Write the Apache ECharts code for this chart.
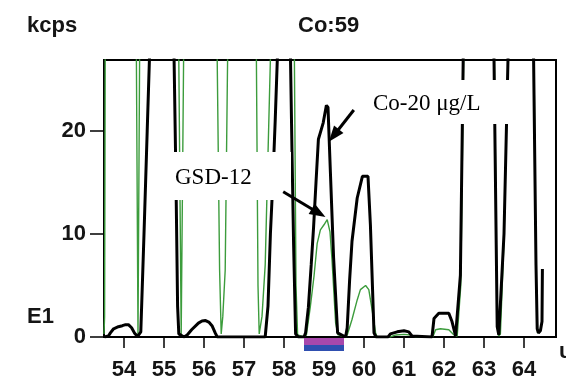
<!DOCTYPE html>
<html>
<head>
<meta charset="utf-8">
<script src="https://cdn.jsdelivr.net/npm/echarts@6/dist/echarts.min.js"></script>
<style>
	html, body { margin: 0; padding: 0; background: #fff; }
	#chart { width: 566px; height: 380px; }
</style>
</head>
<body>
<div id="chart"></div>
<script>
	// mass scan around Co:59, values in kcps (E1)
	let massTicks = [54, 55, 56, 57, 58, 59, 60, 61, 62, 63, 64];
	let countTicks = [0, 10, 20];

	// Co-20 ug/L standard (black trace), [mass, kcps]
	let co20Trace = [
		[53.51, 0], [53.61, 0.1], [53.66, 0.4], [53.74, 0.8], [53.86, 1.0], [53.96, 1.1], [54.04, 1.2], [54.11, 1.2], [54.19, 0.9], [54.26, 0.4], [54.34, 0.05],
		[54.42, 0.5], [54.5, 10], [54.58, 20], [54.66, 30], [54.75, 60], [55.15, 60], [55.24, 30], [55.3, 15], [55.34, 3], [55.37, 0.3],
		[55.5, 0], [55.58, 0.2], [55.69, 0.7], [55.86, 1.35], [55.95, 1.55], [56.04, 1.6], [56.12, 1.45], [56.2, 1.1], [56.28, 0.4], [56.33, 0],
		[57.53, 0], [57.6, 3], [57.66, 10], [57.72, 15], [57.78, 21], [57.86, 30], [57.95, 60], [58.08, 60], [58.15, 30], [58.2, 18], [58.24, 9], [58.29, 0.3],
		[58.36, 0], [58.5, 0], [58.54, 0.4], [58.61, 2.9], [58.68, 7], [58.74, 10.7], [58.8, 15], [58.86, 19.2], [58.92, 20], [58.98, 20.8], [59.06, 22.5], [59.1, 22.3], [59.16, 16], [59.24, 7.7], [59.34, 0.4],
		[59.54, 0], [59.58, 0.9], [59.64, 5.5], [59.7, 9.3], [59.83, 13.5], [59.96, 15.6], [60.1, 15.6], [60.16, 10.9], [60.25, 0.4], [60.3, 0],
		[60.6, 0], [60.66, 0.3], [60.83, 0.5], [61.0, 0.6], [61.12, 0.5], [61.2, 0.1], [61.7, 0],
		[61.75, 1.8], [61.87, 2.3], [62.12, 2.3], [62.2, 1.5], [62.29, 0.1], [62.33, 0.1], [62.41, 6], [62.48, 27], [62.52, 60],
		[63.15, 60], [63.25, 27], [63.33, 1], [63.37, 0.2], [63.41, 0.3], [63.5, 10], [63.6, 27], [63.65, 60],
		[64.18, 60], [64.24, 27], [64.3, 7], [64.33, 0.8], [64.36, 0.4], [64.41, 0.6], [64.45, 1.5], [64.46, 6.6]
	];

	// GSD-12 sediment (green trace)
	let gsd12Trace = [
		[53.5, 0.3], [53.515, 2], [53.53, 27], [53.56, 60], [54.26, 60], [54.31, 27], [54.35, 0.2], [54.39, 27], [54.44, 60],
		[55.32, 60], [55.37, 27], [55.43, 0.3], [55.49, 27], [55.54, 60],
		[56.28, 60], [56.33, 27], [56.39, 6.5], [56.43, 0.3], [56.47, 2], [56.53, 6.5], [56.59, 27], [56.65, 60],
		[57.26, 60], [57.31, 27], [57.35, 5], [57.38, 0.3], [57.45, 2], [57.53, 7], [57.66, 27], [57.72, 60],
		[58.2, 60], [58.26, 27], [58.3, 5], [58.34, 0.2], [58.5, 0],
		[58.56, 0.2], [58.66, 3.0], [58.75, 5.9], [58.83, 9.1], [58.91, 10.4], [59.0, 10.9], [59.08, 11.4], [59.15, 10.2], [59.2, 7.5], [59.29, 1.4], [59.35, 0.2],
		[59.55, 0], [59.58, 0.2], [59.7, 1.7], [59.83, 3.6], [59.91, 4.6], [60.04, 5.0], [60.12, 4.6], [60.2, 2.7], [60.29, 0.4], [60.33, 0],
		[60.65, 0], [60.8, 0.2], [61.0, 0.25], [61.15, 0.2], [61.3, 0], [61.72, 0],
		[61.79, 0.7], [61.91, 0.8], [62.12, 0.7], [62.25, 0.2], [62.33, 0.1], [62.42, 5], [62.49, 27], [62.55, 60],
		[63.18, 60], [63.26, 27], [63.33, 1], [63.37, 0.1], [63.41, 0.3], [63.5, 9.5], [63.6, 27], [63.66, 60],
		[64.2, 60], [64.25, 27], [64.3, 6], [64.34, 0.4], [64.4, 0.5]
	];

	// integration window for Co:59
	let coWindow = [58.5, 59.5];

	let boldFont = 'Liberation Sans';
	let labelStyle = { fontFamily: boldFont, fontSize: 22, fontWeight: 'bold', color: '#151515' };

	let option = {
		animation: false,
		backgroundColor: '#fff',
		title: [{
			text: 'kcps',
			left: 27,
			top: 15,
			padding: 0,
			textStyle: labelStyle
		}, {
			text: 'Co:59',
			left: 298,
			top: 15,
			padding: 0,
			textStyle: labelStyle
		}, {
			text: 'E1',
			left: 27,
			top: 306,
			padding: 0,
			textStyle: labelStyle
		}],
		grid: {
			left: 104,
			right: 10,
			top: 60,
			bottom: 43,
			outerBoundsMode: 'none',
			containLabel: false,
			show: true,
			borderColor: '#000',
			borderWidth: 2
		},
		xAxis: {
			type: 'value',
			min: 53.5,
			max: 64.8,
			name: 'u',
			nameLocation: 'end',
			nameGap: 3,
			nameTextStyle: Object.assign({}, labelStyle, { align: 'left', verticalAlign: 'top', padding: [4, 0, 0, 0] }),
			splitLine: { show: false },
			axisLine: { show: true, lineStyle: { color: '#000', width: 2 } },
			axisTick: { show: true, length: 11, customValues: massTicks, lineStyle: { color: '#000', width: 1.5 } },
			axisLabel: Object.assign({ customValues: massTicks, margin: 22 }, labelStyle)
		},
		yAxis: {
			type: 'value',
			min: 0,
			max: 26.9,
			splitLine: { show: false },
			axisLine: { show: true, lineStyle: { color: '#000', width: 2 } },
			axisTick: { show: true, length: 14, customValues: countTicks, lineStyle: { color: '#000', width: 1.5 } },
			axisLabel: Object.assign({ customValues: countTicks, margin: 18 }, labelStyle)
		},
		series: [{
			type: 'line',
			name: 'GSD-12',
			data: gsd12Trace,
			showSymbol: false,
			symbol: 'none',
			clip: true,
			z: 2,
			lineStyle: { color: '#3c9c3c', width: 1.4 }
		}, {
			type: 'line',
			name: 'Co-20 μg/L',
			data: co20Trace,
			showSymbol: false,
			symbol: 'none',
			clip: true,
			z: 3,
			lineStyle: { color: '#000', width: 3 },
			markLine: {
				silent: true,
				symbol: ['none', 'triangle'],
				symbolSize: [12, 16],
				label: { show: false },
				lineStyle: { color: '#000', width: 3, type: 'solid' },
				z: 20,
				data: [
					[{ coord: [59.745, 22.04] }, { coord: [59.245, 19.57] }],
					[{ coord: [57.98, 14.1] }, { coord: [58.865, 12.05] }]
				]
			}
		}]
	};

	let chart = echarts.init(document.getElementById('chart'));
	chart.setOption(option);

	// window bar under the axis, placed through the x scale
	let x0 = chart.convertToPixel({ xAxisIndex: 0 }, coWindow[0]);
	let x1 = chart.convertToPixel({ xAxisIndex: 0 }, coWindow[1]);
	let yBase = chart.convertToPixel({ yAxisIndex: 0 }, 0);

	chart.setOption({
		graphic: [{
			id: 'coBox',
			type: 'rect',
			z: 10,
			shape: { x: 360, y: 80, width: 165, height: 44 },
			style: { fill: '#fff' }
		}, {
			id: 'coText',
			type: 'text',
			z: 11,
			style: { x: 373, y: 104, text: 'Co-20 μg/L', font: '23px "Liberation Serif"', fill: '#000', verticalAlign: 'middle' }
		}, {
			id: 'gsdBox',
			type: 'rect',
			z: 10,
			shape: { x: 150, y: 152, width: 141, height: 48 },
			style: { fill: '#fff' }
		}, {
			id: 'gsdText',
			type: 'text',
			z: 11,
			style: { x: 175, y: 178, text: 'GSD-12', font: '23px "Liberation Serif"', fill: '#000', verticalAlign: 'middle' }
		}, {
			id: 'winTop',
			type: 'rect',
			z: 12,
			shape: { x: x0, y: yBase + 1, width: x1 - x0, height: 7 },
			style: { fill: '#a848ac' }
		}, {
			id: 'winBottom',
			type: 'rect',
			z: 12,
			shape: { x: x0, y: yBase + 8, width: x1 - x0, height: 6 },
			style: { fill: '#2f4fb0' }
		}]
	});
</script>
</body>
</html>
